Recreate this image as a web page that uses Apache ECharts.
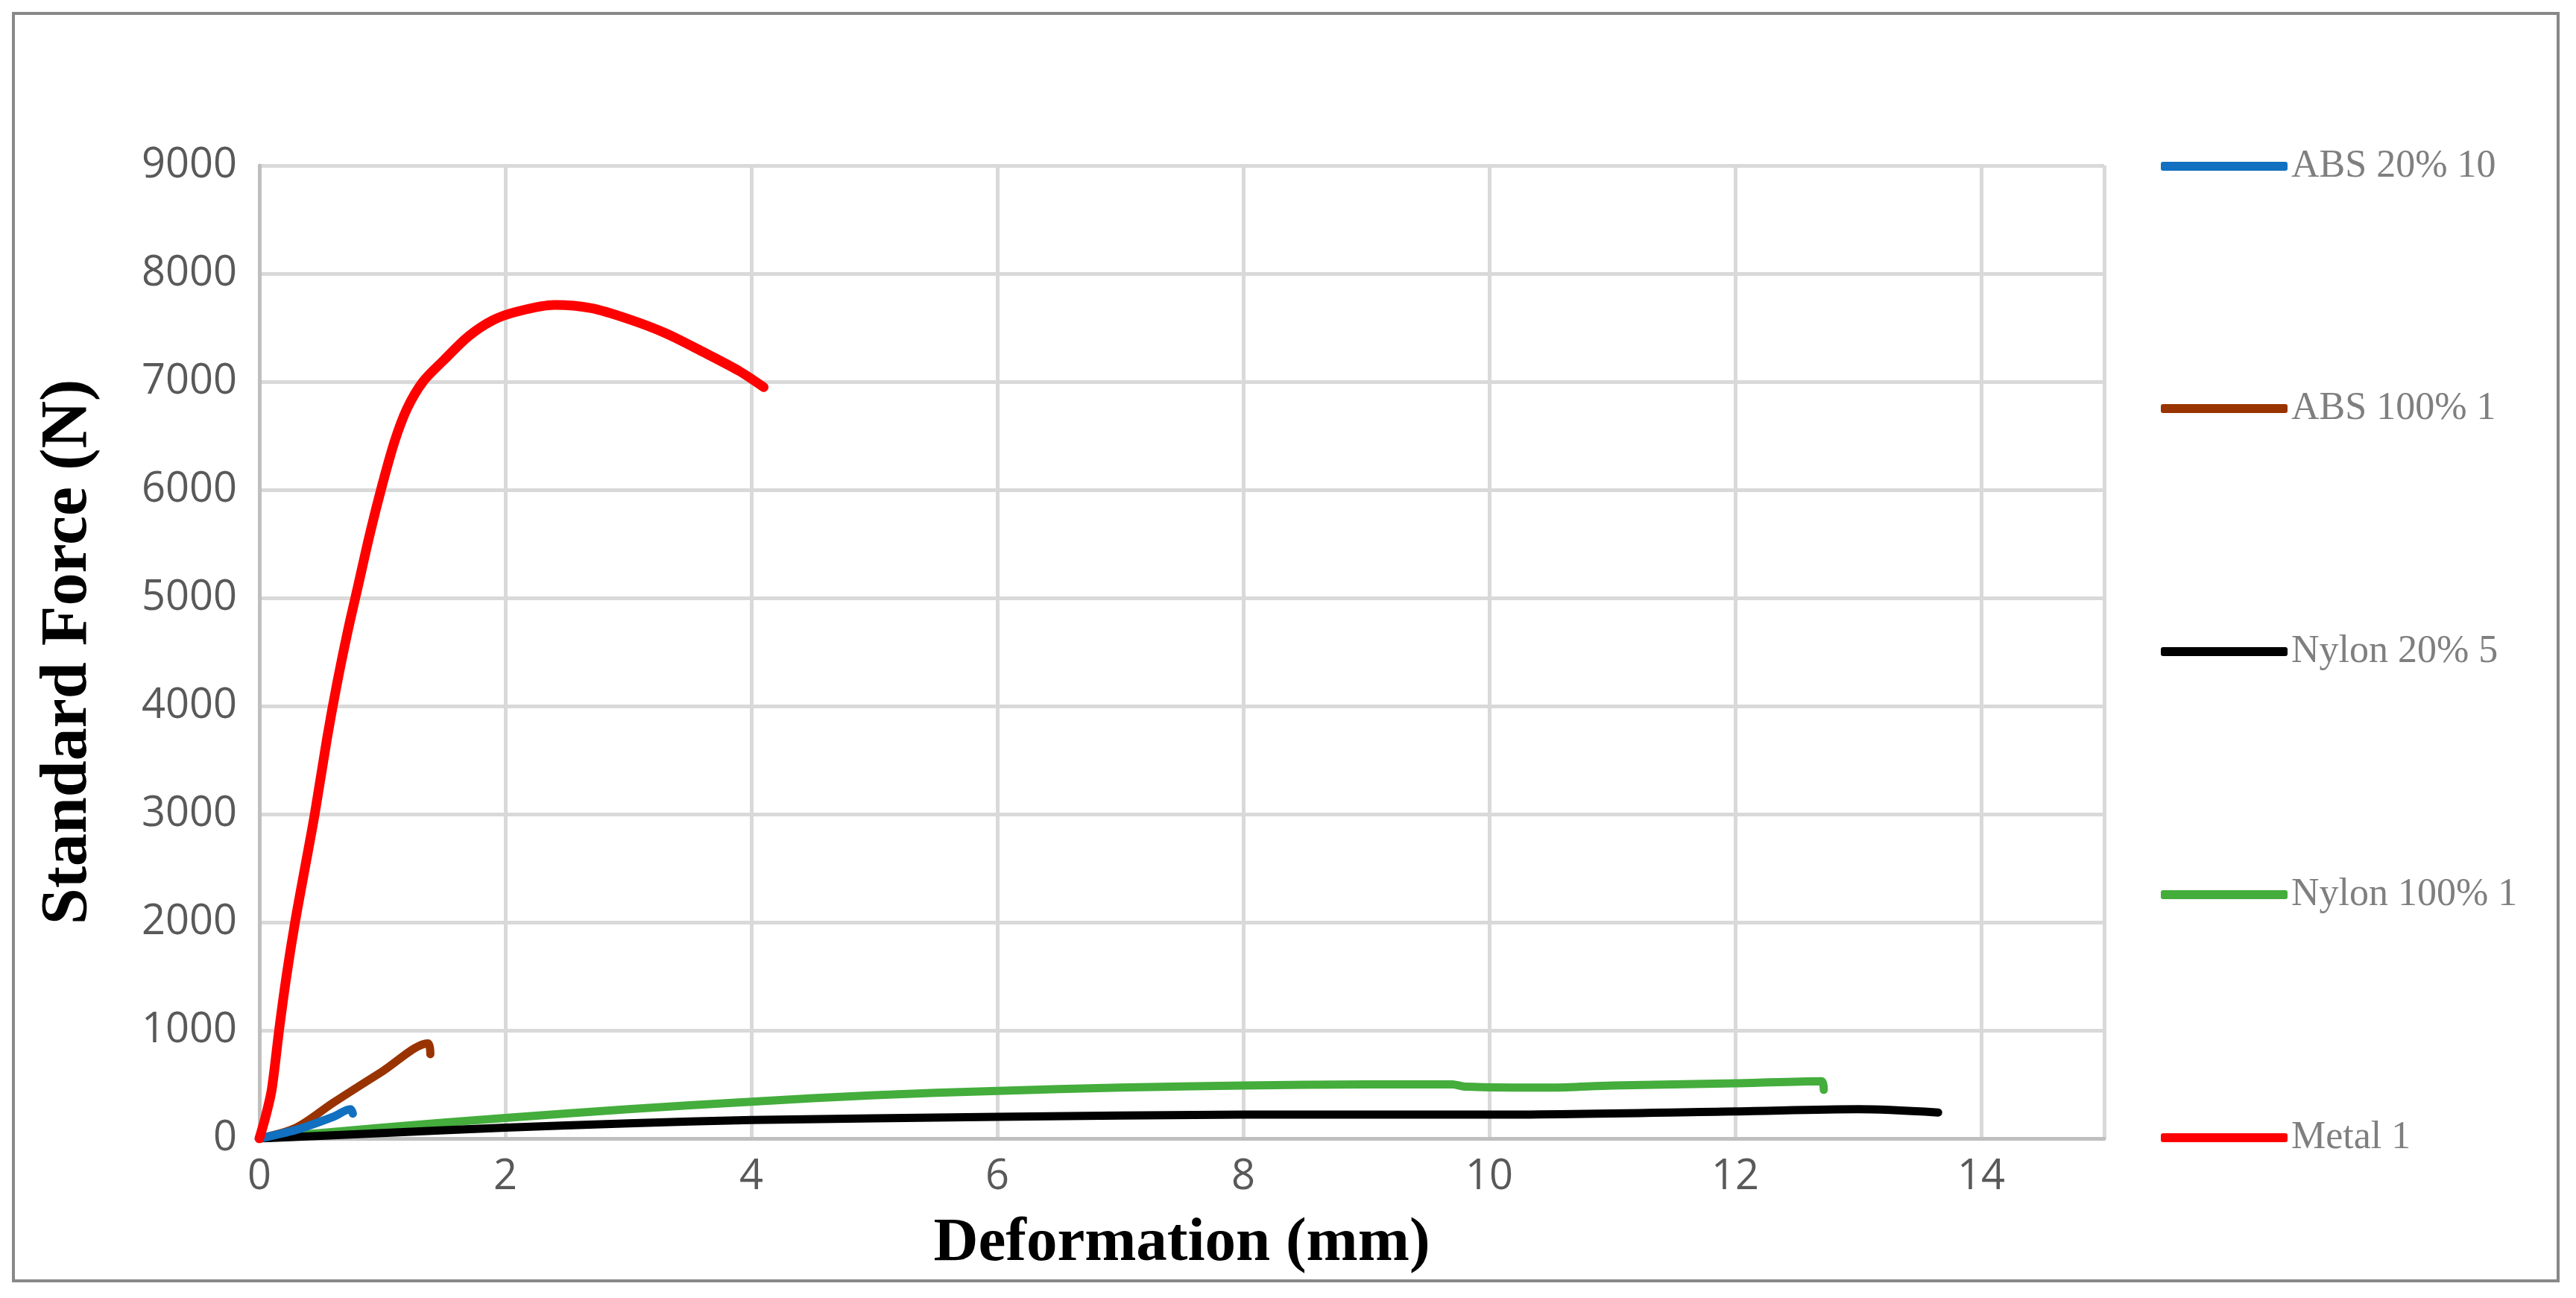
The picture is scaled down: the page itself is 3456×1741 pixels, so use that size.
<!DOCTYPE html>
<html>
<head>
  <meta charset="utf-8" />
  <title>ECharts</title>
  <script src="https://cdn.jsdelivr.net/npm/echarts@6/dist/echarts.min.js"></script>
  <style>html,body{margin:0;background:#fff}</style>
</head>
<body>
  <div id="main" style="width: 3456px;height:1741px;"></div>
  <script type="text/javascript">
    // 数据 (deformation mm, force N)
    var abs20 = [[0, 0], [0.3, 80], [0.6, 200], [0.74, 270], [0.76, 230]];
    var abs100 = [[0, 0], [0.3, 100], [0.6, 330], [1.0, 620], [1.37, 880], [1.39, 780]];
    var nylon20 = [[0, 0], [1, 50], [2, 100], [3, 140], [4, 170], [6, 200], [8, 220], [10, 220], [12, 250], [13, 270], [13.65, 240]];
    var nylon100 = [[0, 0], [1, 100], [2, 190], [3, 270], [4, 340], [5, 400], [6, 440], [7, 470], [8, 490], [9, 500], [9.7, 500], [9.8, 480], [10.5, 470], [11, 490], [12, 510], [12.7, 530], [12.72, 450]];
    var metal = [[0, 0], [0.05, 200], [0.1, 450], [0.16, 1000], [0.22, 1500], [0.29, 2000], [0.37, 2500], [0.45, 3000], [0.55, 3700], [0.63, 4200], [0.72, 4700], [0.8, 5100], [0.9, 5600], [1.0, 6050], [1.1, 6450], [1.2, 6750], [1.33, 7000], [1.5, 7200], [1.7, 7420], [1.9, 7570], [2.1, 7650], [2.4, 7710], [2.7, 7680], [3.0, 7580], [3.3, 7450], [3.6, 7280], [3.9, 7100], [4.1, 6950]];
    var names = ['ABS 20% 10', 'ABS 100% 1', 'Nylon 20% 5', 'Nylon 100% 1', 'Metal 1'];
    var colors = ['#1170c0', '#993300', '#000000', '#44ad3c', '#ff0000'];
    var datas = [abs20, abs100, nylon20, nylon100, metal];

    var myChart = echarts.init(document.getElementById('main'));

    var legendTops = [222, 547, 873, 1199, 1525];
    var legends = names.map(function (n, i) {
      return {
        data: [n],
        left: 2894,
        top: legendTops[i] - 30,
        icon: 'roundRect',
        itemWidth: 170,
        itemHeight: 12,
        itemGap: 10,
        textStyle: { fontFamily: 'Liberation Serif', fontSize: 52, color: '#7f7f7f' }
      };
    });

    var series = names.map(function (n, i) {
      return {
        name: n,
        type: 'line',
        data: datas[i],
        showSymbol: false,
        smooth: 0.3,
        lineStyle: { width: i == 4 ? 13 : 11, color: colors[i], cap: 'round', join: 'round' },
        itemStyle: { color: colors[i] }
      };
    });
    // 绘制顺序: 红线最上
    series = [series[3], series[2], series[1], series[0], series[4]];

    var option = {
      animation: false,
      backgroundColor: '#fff',
      graphic: [{
        type: 'rect',
        shape: { x: 18, y: 18, width: 3414, height: 1700 },
        style: { fill: 'none', stroke: '#888', lineWidth: 4 }
      }],
      legend: legends,
      grid: { left: 348, top: 222, width: 2475, height: 1305 },
      xAxis: {
        type: 'value',
        min: 0, max: 15, interval: 2,
        name: 'Deformation (mm)',
        nameLocation: 'middle',
        nameGap: 100,
        nameTextStyle: { fontFamily: 'Liberation Serif', fontWeight: 'bold', fontSize: 83, color: '#000' },
        axisLine: { lineStyle: { color: '#bfbfbf', width: 5 } },
        axisTick: { show: false },
        axisLabel: {
          fontFamily: 'Open Sans', fontSize: 56, color: '#595959', margin: 24,
          formatter: function (v) { return v > 14 ? '' : String(v); }
        },
        splitLine: { lineStyle: { color: '#d9d9d9', width: 5 } }
      },
      yAxis: {
        type: 'value',
        min: 0, max: 9000, interval: 1000,
        name: 'Standard Force (N)',
        nameLocation: 'middle',
        nameGap: 212,
        nameTextStyle: { fontFamily: 'Liberation Serif', fontWeight: 'bold', fontSize: 88, color: '#000' },
        axisLine: { show: true, lineStyle: { color: '#bfbfbf', width: 5 } },
        axisTick: { show: false },
        axisLabel: {
          fontFamily: 'Open Sans', fontSize: 56, color: '#595959', margin: 30,
          formatter: function (v) { return String(v); }
        },
        splitLine: { lineStyle: { color: '#d9d9d9', width: 5 } }
      },
      series: series
    };
    option && myChart.setOption(option);
  </script>
</body>
</html>
